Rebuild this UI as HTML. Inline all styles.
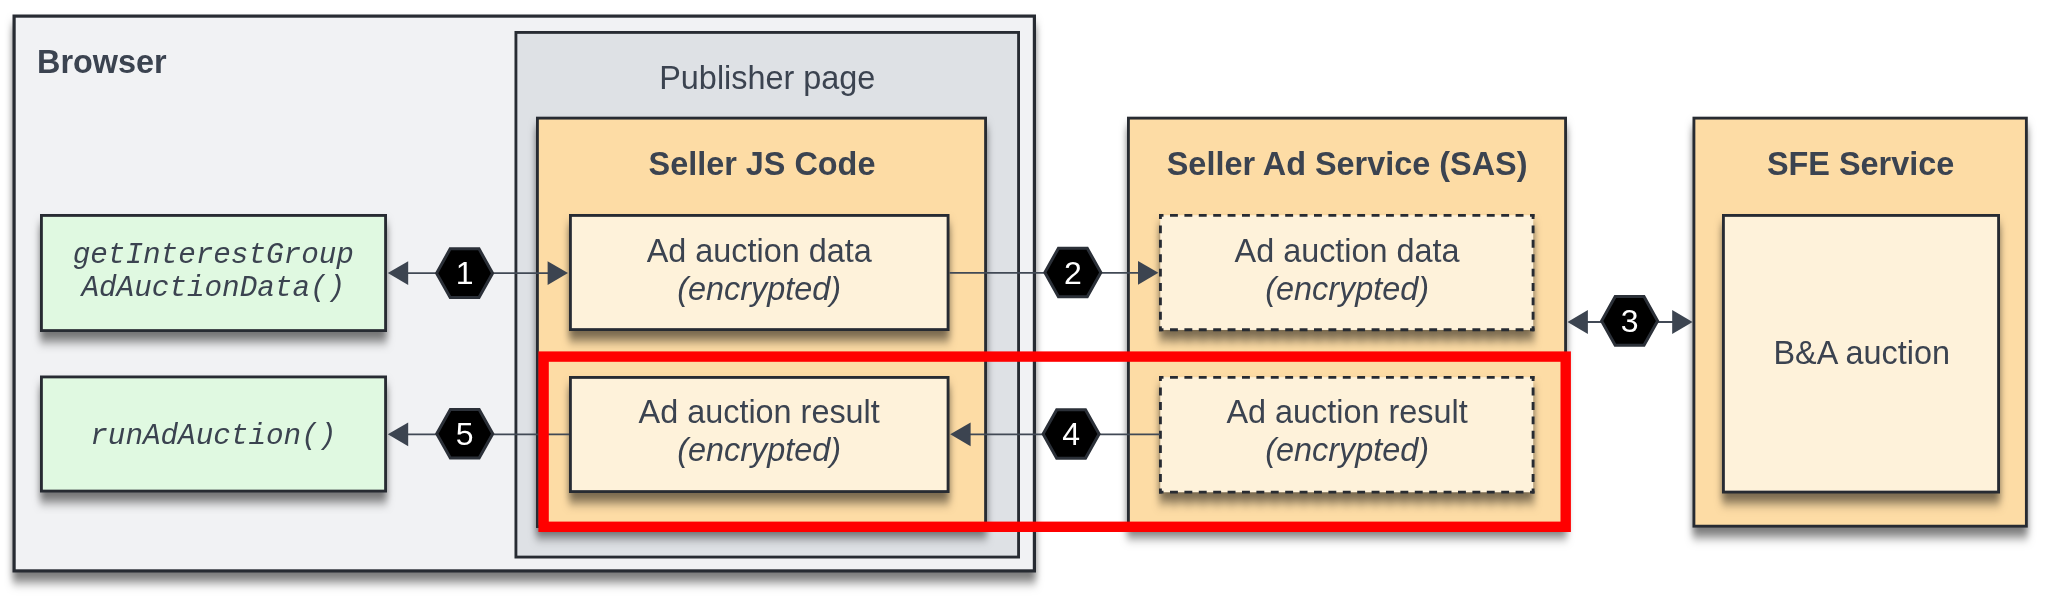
<!DOCTYPE html>
<html>
<head>
<meta charset="utf-8">
<style>
html,body{margin:0;padding:0;background:#ffffff;width:2048px;height:600px;overflow:hidden;}
svg{display:block;will-change:transform;}
text{font-family:"Liberation Sans",sans-serif;fill:#3b4350;}
.t{font-size:32.4px;}
.b{font-weight:bold;}
.i{font-style:italic;}
.m{font-family:"Liberation Mono",monospace;font-style:italic;font-size:29.3px;}
.n{font-size:32px;fill:#ffffff;}
.ln{stroke:#414955;stroke-width:1.8;fill:none;}
.ah{fill:#3c4450;}
.hx{fill:#000000;stroke:#2b3038;stroke-width:3;stroke-linejoin:miter;}
</style>
</head>
<body>
<svg width="2048" height="600" viewBox="0 0 2048 600">
<defs>
<filter id="sh" x="-10%" y="-10%" width="120%" height="130%" color-interpolation-filters="sRGB">
<feDropShadow dx="0" dy="9.5" stdDeviation="3.6 5.5" flood-color="#000000" flood-opacity="0.53"/>
</filter>
</defs>
<rect x="14.10" y="16.10" width="1020.30" height="554.80" fill="#f1f2f4" stroke="#272b32" stroke-width="3.2" filter="url(#sh)"/>
<text class="t b" x="37" y="72.75">Browser</text>
<rect x="515.92" y="32.42" width="502.65" height="524.65" fill="#dee1e5" stroke="#272b32" stroke-width="2.85"/>
<text class="t" x="767.3" y="89.3" text-anchor="middle">Publisher page</text>
<rect x="537.42" y="118.12" width="448.15" height="408.45" fill="#fddca5" stroke="#272b32" stroke-width="2.85" filter="url(#sh)"/>
<text class="t b" x="762" y="174.8" text-anchor="middle">Seller JS Code</text>
<rect x="570.42" y="215.43" width="377.65" height="114.15" fill="#fef2da" stroke="#272b32" stroke-width="2.85" filter="url(#sh)"/>
<text class="t" x="759.2" y="261.6" text-anchor="middle">Ad auction data</text>
<text class="t i" x="759.2" y="299.6" text-anchor="middle">(encrypted)</text>
<rect x="570.42" y="377.43" width="377.65" height="114.15" fill="#fef2da" stroke="#272b32" stroke-width="2.85" filter="url(#sh)"/>
<text class="t" x="759.2" y="423.3" text-anchor="middle">Ad auction result</text>
<text class="t i" x="759.2" y="461" text-anchor="middle">(encrypted)</text>
<rect x="41.42" y="215.43" width="344.15" height="115.15" fill="#e0f9e1" stroke="#272b32" stroke-width="2.85" filter="url(#sh)"/>
<text class="m" x="213.3" y="263" text-anchor="middle">getInterestGroup</text>
<text class="m" x="213.3" y="296.3" text-anchor="middle">AdAuctionData()</text>
<rect x="41.42" y="376.93" width="344.15" height="114.15" fill="#e0f9e1" stroke="#272b32" stroke-width="2.85" filter="url(#sh)"/>
<text class="m" x="213.3" y="443.6" text-anchor="middle">runAdAuction()</text>
<rect x="1128.42" y="118.12" width="437.15" height="408.45" fill="#fddca5" stroke="#272b32" stroke-width="2.85" filter="url(#sh)"/>
<text class="t b" x="1347.1" y="174.9" text-anchor="middle">Seller Ad Service (SAS)</text>
<g filter="url(#sh)">
<rect x="1160.25" y="215.25" width="373" height="114.69999999999999" fill="#fef2da"/>
<line x1="1159.00" y1="215.43" x2="1534.50" y2="215.43" stroke="#272b32" stroke-width="2.85" stroke-dasharray="7.9 6.5" stroke-dashoffset="3.400"/>
<line x1="1159.00" y1="329.77" x2="1534.50" y2="329.77" stroke="#272b32" stroke-width="2.85" stroke-dasharray="7.9 6.5" stroke-dashoffset="3.400"/>
<line x1="1160.42" y1="214.00" x2="1160.42" y2="331.20" stroke="#272b32" stroke-width="2.85" stroke-dasharray="7.9 6.5" stroke-dashoffset="2.950"/>
<line x1="1533.08" y1="214.00" x2="1533.08" y2="331.20" stroke="#272b32" stroke-width="2.85" stroke-dasharray="7.9 6.5" stroke-dashoffset="2.950"/>
</g>
<text class="t" x="1347.1" y="261.7" text-anchor="middle">Ad auction data</text>
<text class="t i" x="1347.1" y="299.9" text-anchor="middle">(encrypted)</text>
<g filter="url(#sh)">
<rect x="1160.25" y="377.25" width="373" height="115.0" fill="#fef2da"/>
<line x1="1159.00" y1="377.43" x2="1534.50" y2="377.43" stroke="#272b32" stroke-width="2.85" stroke-dasharray="7.9 6.5" stroke-dashoffset="3.400"/>
<line x1="1159.00" y1="492.07" x2="1534.50" y2="492.07" stroke="#272b32" stroke-width="2.85" stroke-dasharray="7.9 6.5" stroke-dashoffset="3.400"/>
<line x1="1160.42" y1="376.00" x2="1160.42" y2="493.50" stroke="#272b32" stroke-width="2.85" stroke-dasharray="7.9 6.5" stroke-dashoffset="2.800"/>
<line x1="1533.08" y1="376.00" x2="1533.08" y2="493.50" stroke="#272b32" stroke-width="2.85" stroke-dasharray="7.9 6.5" stroke-dashoffset="2.800"/>
</g>
<text class="t" x="1347.1" y="423.3" text-anchor="middle">Ad auction result</text>
<text class="t i" x="1347.1" y="461" text-anchor="middle">(encrypted)</text>
<rect x="1693.92" y="118.12" width="332.45" height="408.05" fill="#fddca5" stroke="#272b32" stroke-width="2.85" filter="url(#sh)"/>
<text class="t b" x="1860.6" y="174.7" text-anchor="middle">SFE Service</text>
<rect x="1723.42" y="215.43" width="275.15" height="276.65" fill="#fef2da" stroke="#272b32" stroke-width="2.85" filter="url(#sh)"/>
<text class="t" x="1861.7" y="364.2" text-anchor="middle">B&amp;A auction</text>
<line class="ln" x1="400" y1="273.1" x2="556" y2="273.1"/>
<polygon class="ah" points="387.80,273.10 408.20,261.20 408.20,285.00"/>
<polygon class="ah" points="568.00,273.10 547.60,261.20 547.60,285.00"/>
<polygon class="hx" points="436.60,273.15 450.20,248.85 479.00,248.85 492.60,273.15 479.00,297.45 450.20,297.45"/>
<text class="n" x="464.60" y="284.15" text-anchor="middle">1</text>
<line class="ln" x1="949.5" y1="272.8" x2="1146" y2="272.8"/>
<polygon class="ah" points="1158.40,272.80 1138.00,260.90 1138.00,284.70"/>
<polygon class="hx" points="1044.85,272.50 1058.45,248.20 1087.25,248.20 1100.85,272.50 1087.25,296.80 1058.45,296.80"/>
<text class="n" x="1072.85" y="283.50" text-anchor="middle">2</text>
<line class="ln" x1="1580" y1="322" x2="1680" y2="322"/>
<polygon class="ah" points="1567.50,322.00 1587.90,310.10 1587.90,333.90"/>
<polygon class="ah" points="1692.60,322.00 1672.20,310.10 1672.20,333.90"/>
<polygon class="hx" points="1601.60,320.90 1615.20,296.60 1644.00,296.60 1657.60,320.90 1644.00,345.20 1615.20,345.20"/>
<text class="n" x="1629.60" y="331.90" text-anchor="middle">3</text>
<line class="ln" x1="962" y1="434.3" x2="1160" y2="434.3"/>
<polygon class="ah" points="950.20,434.30 970.60,422.40 970.60,446.20"/>
<polygon class="hx" points="1043.10,434.05 1056.70,409.75 1085.50,409.75 1099.10,434.05 1085.50,458.35 1056.70,458.35"/>
<text class="n" x="1071.10" y="445.05" text-anchor="middle">4</text>
<line class="ln" x1="400" y1="434.3" x2="569" y2="434.3"/>
<polygon class="ah" points="387.80,434.30 408.20,422.40 408.20,446.20"/>
<polygon class="hx" points="436.75,433.75 450.35,409.45 479.15,409.45 492.75,433.75 479.15,458.05 450.35,458.05"/>
<text class="n" x="464.75" y="444.75" text-anchor="middle">5</text>
<rect x="543.6" y="356.6" width="1022.1" height="170.2" fill="none" stroke="#ff0000" stroke-width="10.4"/>
</svg>
</body>
</html>
